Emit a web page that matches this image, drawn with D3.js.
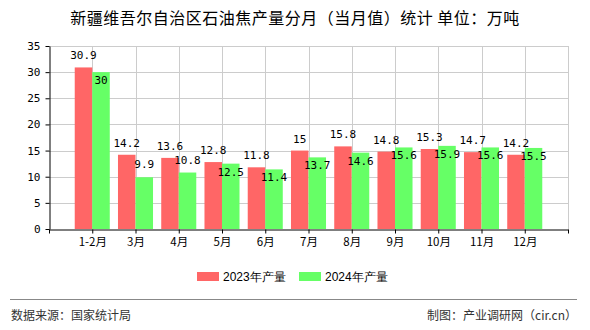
<!DOCTYPE html>
<html><head><meta charset="utf-8">
<script src="https://cdn.jsdelivr.net/npm/d3@7/dist/d3.min.js"></script>
<style>body{margin:0;background:#fff;}svg{display:block;}</style>
</head><body>
<svg id="c" width="590" height="330"></svg>
<script>
const categories = ["1-2月","3月","4月","5月","6月","7月","8月","9月","10月","11月","12月"];
const values2023 = [30.9,14.2,13.6,12.8,11.8,15,15.8,14.8,15.3,14.7,14.2];
const values2024 = [30,9.9,10.8,12.5,11.4,13.7,14.6,15.6,15.9,15.6,15.5];
const seriesNames = ["2023年产量","2024年产量"];
const yTicks = [0,5,10,15,20,25,30,35];
const colors = ["#ff6666","#66ff66"];

const svg = d3.select("#c");
const L=49, R=568, T=46, B=229;
const x = d3.scaleLinear().domain([0, categories.length+1]).range([L,R]);
const y = d3.scaleLinear().domain([0,35]).range([B,T]);
const step = x(1)-x(0);
const bw = step*0.405;
const labelFont = "'DejaVu Sans Mono', 'Liberation Mono', monospace";
const cjk = "'Noto Sans CJK SC', sans-serif";

svg.append("text").attr("x",295).attr("y",24).attr("text-anchor","middle")
  .attr("font-family",cjk).attr("font-size",16).attr("letter-spacing",0.5).attr("fill","#000")
  .text("新疆维吾尔自治区石油焦产量分月（当月值）统计 单位：万吨");

// grid
const g = svg.append("g");
g.selectAll(".hg").data(yTicks.filter(d=>d>0)).enter().append("line")
  .attr("x1",L).attr("x2",R).attr("y1",d=>Math.round(y(d))+0.5).attr("y2",d=>Math.round(y(d))+0.5)
  .attr("stroke","#cccccc");
const xt = d3.range(1, categories.length+2);
g.selectAll(".vg").data(xt).enter().append("line")
  .attr("x1",d=>Math.round(x(d))+0.5).attr("x2",d=>Math.round(x(d))+0.5).attr("y1",T).attr("y2",B)
  .attr("stroke","#cccccc");

// bars
const series = [values2023, values2024];
series.forEach((vals,si)=>{
  svg.append("g").selectAll("rect").data(vals).enter().append("rect")
    .attr("x",(d,i)=> si===0 ? x(i+1)-bw : x(i+1))
    .attr("width",bw)
    .attr("y",d=>y(d)).attr("height",d=>B-y(d))
    .attr("fill",colors[si]);
});

// axes
const yAxis = d3.axisLeft(y).tickValues(yTicks).tickSize(4).tickSizeOuter(0).tickPadding(5);
const ya = svg.append("g").attr("transform",`translate(${L+0.5},0)`).call(yAxis);
ya.select(".domain").attr("stroke","#000");
ya.selectAll(".tick line").attr("stroke","#000");
ya.selectAll("text").attr("font-family",labelFont).attr("font-size",11).attr("fill","#000");

const xAxis = d3.axisBottom(x).tickValues(d3.range(0, categories.length+2)).tickSize(4).tickSizeOuter(0)
  .tickFormat(d=> (d>=1 && d<=categories.length) ? categories[d-1] : "");
const xa = svg.append("g").attr("transform",`translate(0,${B+0.5})`).call(xAxis);
xa.select(".domain").attr("stroke","#000");
xa.selectAll(".tick line").attr("stroke","#000");
xa.selectAll("text").attr("font-family",cjk).attr("font-size",11.5).attr("fill","#000").attr("dy","0.85em");

// labels
const lab = svg.append("g").attr("font-family",labelFont).attr("font-size",11).attr("fill","#000").attr("text-anchor","middle");
values2023.forEach((v,i)=>{
  lab.append("text").attr("x",x(i+1)-bw/2).attr("y",y(v)-8).text(v);
});
values2024.forEach((v,i)=>{
  const above = values2023[i]-v > 2;
  lab.append("text").attr("x",x(i+1)+bw/2).attr("y", above ? y(v)-9 : y(v)+12).text(v);
});

// legend
const lg = svg.append("g").attr("font-family","'Liberation Sans', Arial, sans-serif").attr("font-size",12);
[[197,223],[299,325]].forEach((p,i)=>{
  lg.append("rect").attr("x",p[0]).attr("y",272).attr("width",22).attr("height",9).attr("fill",colors[i]);
  lg.append("text").attr("x",p[1]).attr("y",281).attr("fill","#000").text(seriesNames[i]);
});

// footer
svg.append("line").attr("x1",10).attr("x2",577).attr("y1",299.5).attr("y2",299.5).attr("stroke","#888").attr("stroke-width",1);
svg.append("text").attr("x",11).attr("y",320).attr("font-family",cjk).attr("font-size",12).attr("fill","#333").text("数据来源：国家统计局");
svg.append("text").attr("x",577).attr("y",320).attr("text-anchor","end").attr("font-family",cjk).attr("font-size",12).attr("fill","#333").text("制图：产业调研网（cir.cn）");
</script>
</body></html>
